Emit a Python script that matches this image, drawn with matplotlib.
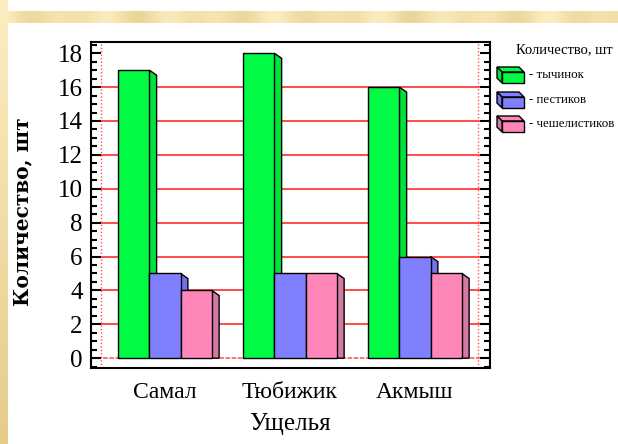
"""Количество тычинок, пестиков и чешелистиков по ущельям (3D-столбцы)."""

import matplotlib

matplotlib.use("Agg")

import matplotlib.pyplot as plt
import matplotlib.ticker as mticker
import numpy as np
from matplotlib.patches import Polygon

GORGES = ["Самал", "Тюбижик", "Акмыш"]
STAMENS = [17, 18, 16]
PISTILS = [5, 5, 6]
SEPALS = [4, 5, 5]
SERIES_LABELS = ["- тычинок", "- пестиков", "- чешелистиков"]

FRONT_COLORS = ["#00FA44", "#8080FF", "#FF86B9"]
SIDE_COLORS = ["#00E23C", "#7272EA", "#D478A6"]

W, H = 618, 444
SERIF = "Liberation Serif"


def fig_frac(x0, y0, x1, y1):
    """Pixel box (top-left origin) to figure fraction rect."""
    return [x0 / W, 1 - y1 / H, (x1 - x0) / W, (y1 - y0) / H]


def draw_background(fig):
    band = fig.add_axes(fig_frac(0, 11, W, 23), zorder=-5)
    xs = np.linspace(0, 1, 400)
    shade = 0.5 + 0.5 * np.cos(xs * 2 * np.pi * 9) * np.cos(xs * 2 * np.pi * 2.3)
    light = np.array([0.99, 0.93, 0.76])
    dark = np.array([0.92, 0.84, 0.60])
    row = light[None, :] * shade[:, None] + dark[None, :] * (1 - shade[:, None])
    band.imshow(row[None, :, :], aspect="auto", interpolation="bilinear")
    band.axis("off")

    stripe = fig.add_axes(fig_frac(0, 0, 7, H), zorder=-4)
    ys = np.linspace(0, 1, 200)
    top = np.array([0.99, 0.93, 0.76])
    bot = np.array([0.90, 0.80, 0.54])
    col = top[None, :] * (1 - ys[:, None]) + bot[None, :] * ys[:, None]
    stripe.imshow(col[:, None, :], aspect="auto", interpolation="bilinear")
    stripe.axis("off")


def draw_bars(ax):
    x = np.arange(len(GORGES))
    width = 0.25
    dx, dy = 0.058, 0.3
    for k, values in enumerate([STAMENS, PISTILS, SEPALS]):
        pos = x + (k - 1) * width
        ax.bar(
            pos,
            values,
            width,
            color=FRONT_COLORS[k],
            edgecolor="black",
            linewidth=1.0,
            zorder=3 + 2 * k,
        )
        for p, v in zip(pos, values):
            xr = p + width / 2
            side = Polygon(
                [(xr, v), (xr + dx, v - dy), (xr + dx, 0), (xr, 0)],
                closed=True,
                facecolor=SIDE_COLORS[k],
                edgecolor="black",
                linewidth=1.0,
                zorder=2 + 2 * k,
            )
            ax.add_patch(side)
    return x


def draw_legend(fig):
    lax = fig.add_axes(fig_frac(490, 30, W, 150), zorder=5)
    lax.set_xlim(490, W)
    lax.set_ylim(150, 30)
    lax.axis("off")
    lax.text(516, 50, "Количество, шт", fontsize=10.5, family=SERIF, va="center")
    w, h, d = 22, 11, 5
    for k, (label, yc) in enumerate(zip(SERIES_LABELS, [75, 100, 124])):
        x0 = 497
        y0 = yc - (h + d) / 2
        faces = [
            [(x0, y0), (x0 + w, y0), (x0 + w + d, y0 + d), (x0 + d, y0 + d)],
            [(x0 + d, y0 + d), (x0 + w + d, y0 + d), (x0 + w + d, y0 + d + h), (x0 + d, y0 + d + h)],
            [(x0, y0), (x0 + d, y0 + d), (x0 + d, y0 + d + h), (x0, y0 + h)],
        ]
        shades = [FRONT_COLORS[k], FRONT_COLORS[k], SIDE_COLORS[k]]
        for pts, c in zip(faces, shades):
            lax.add_patch(
                Polygon(pts, closed=True, facecolor=c, edgecolor="black", linewidth=1.0)
            )
        lax.text(529, yc, label, fontsize=9.3, family=SERIF, va="center")


def main():
    fig = plt.figure(figsize=(W / 100, H / 100), dpi=100)
    fig.patch.set_facecolor("white")
    draw_background(fig)

    ax = fig.add_axes(fig_frac(91, 41.7, 490, 368))
    x = draw_bars(ax)

    ax.set_xlim(-0.592, 2.6)
    ax.set_ylim(-0.58, 18.68)

    for yv in range(2, 18, 2):
        ax.axhline(yv, color="#FF1A1A", linewidth=1.1, zorder=1)
    ax.axhline(0, color="#FF5050", linewidth=1.1, linestyle=(0, (3, 1)), zorder=1)
    for xv in (-0.512, 2.504):
        ax.axvline(xv, color="#FF5050", linewidth=1.0, linestyle=(0, (1, 1.5)), zorder=1)

    ax.yaxis.set_major_locator(mticker.MultipleLocator(2))
    ax.yaxis.set_minor_locator(mticker.MultipleLocator(0.5))
    ax.tick_params(axis="y", which="both", direction="in", left=True, right=True, width=1.5)
    ax.tick_params(axis="y", which="major", length=7, labelsize=18, pad=6)
    ax.tick_params(axis="y", which="minor", length=4)
    ax.set_xticks(x)
    ax.set_xticklabels(GORGES, fontsize=17, family=SERIF)
    ax.tick_params(axis="x", length=0, pad=10)
    for lab in ax.get_yticklabels():
        lab.set_family(SERIF)
    for spine in ax.spines.values():
        spine.set_linewidth(1.5)

    ax.set_xlabel("Ущелья", fontsize=18, family=SERIF, labelpad=7)
    ax.set_ylabel("Количество, шт", fontsize=14.5, family="DejaVu Serif", fontweight="bold")
    ax.yaxis.set_label_coords(-0.148, 0.48)

    draw_legend(fig)

    fig.savefig("out.png", dpi=100)
    plt.close(fig)


if __name__ == "__main__":
    main()
